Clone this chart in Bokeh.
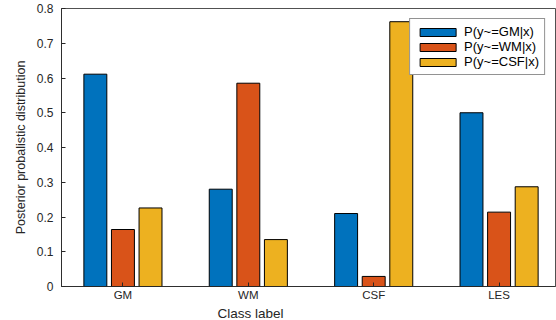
from bokeh.plotting import figure
from bokeh.models import Range1d, FixedTicker, ColumnDataSource, Legend, LegendItem, Title
from bokeh.transform import dodge
from bokeh.embed import file_html
from bokeh.resources import INLINE

categories = ["GM", "WM", "CSF", "LES"]
cat_pos = [1, 2, 3, 4]
p_gm = [0.611, 0.280, 0.210, 0.500]
p_wm = [0.164, 0.585, 0.029, 0.214]
p_csf = [0.226, 0.135, 0.762, 0.287]
series_names = ["P(y~=GM|x)", "P(y~=WM|x)", "P(y~=CSF|x)"]
y_ticks = [0, 0.1, 0.2, 0.3, 0.4, 0.5, 0.6, 0.7, 0.8]
y_tick_labels = ["0", "0.1", "0.2", "0.3", "0.4", "0.5", "0.6", "0.7", "0.8"]
x_title = "Class label"
y_title = "Posterior probalistic distribution"

colors = ["#0072BD", "#D95319", "#EDB120"]
FONT = "Liberation Sans"
AX = "#262626"

src = ColumnDataSource(dict(x=cat_pos, gm=p_gm, wm=p_wm, csf=p_csf))

p = figure(width=556, height=320, output_backend="svg", toolbar_location=None,
           x_range=Range1d(0.51, 4.45), y_range=Range1d(0, 0.8),
           min_border_left=61, min_border_right=1, min_border_top=8, min_border_bottom=34)
p.xgrid.visible = False
p.ygrid.visible = False
p.outline_line_color = AX
p.outline_line_alpha = 0.8
p.background_fill_color = "white"
p.border_fill_color = "white"

renderers = []
for col, off, c in zip(["gm", "wm", "csf"], [-0.22, 0.0, 0.22], colors):
    r = p.vbar(x=dodge("x", off), top=col, width=0.183, bottom=0, source=src,
               fill_color=c, line_color="black", line_width=1)
    renderers.append(r)

xa = p.xaxis[0]
xa.ticker = FixedTicker(ticks=cat_pos)
xa.major_label_overrides = {k: v for k, v in zip(cat_pos, categories)}
ya = p.yaxis[0]
ya.ticker = FixedTicker(ticks=y_ticks)
ya.major_label_overrides = {k: v for k, v in zip(y_ticks, y_tick_labels)}
ya.axis_label = y_title

for a in [xa, ya]:
    a.major_tick_in = 4
    a.major_tick_out = 0
    a.minor_tick_line_color = None
    a.axis_line_color = AX
    a.axis_line_alpha = 0.8
    a.major_tick_line_color = AX
    a.major_label_text_font = FONT
    a.major_label_text_font_size = "12px"
    a.major_label_text_color = AX
    a.axis_label_text_font = FONT
    a.axis_label_text_font_style = "normal"
    a.axis_label_text_color = AX
ya.axis_label_text_font_size = "12.5px"
xa.major_label_text_font_size = "11.5px"
xa.major_label_standoff = 2
xa.axis_label_standoff = 0
ya.major_label_standoff = 8
ya.axis_label_standoff = 6

xt = Title(text=x_title, align="left", offset=156, standoff=0,
           text_font=FONT, text_font_size="13.5px", text_font_style="normal", text_color=AX)
p.add_layout(xt, "below")

legend = Legend(items=[LegendItem(label=n, renderers=[r]) for n, r in zip(series_names, renderers)],
                location="top_right")
legend.margin = 10
legend.padding = 5
legend.spacing = 0
legend.glyph_width = 45
legend.glyph_height = 10
legend.label_height = 10
legend.label_standoff = 4
legend.label_text_font = FONT
legend.label_text_font_size = "13px"
legend.label_text_color = "black"
legend.border_line_color = AX
legend.border_line_width = 1
legend.background_fill_alpha = 1
p.add_layout(legend, "center")

open("out.html", "w").write(file_html(p, INLINE))
